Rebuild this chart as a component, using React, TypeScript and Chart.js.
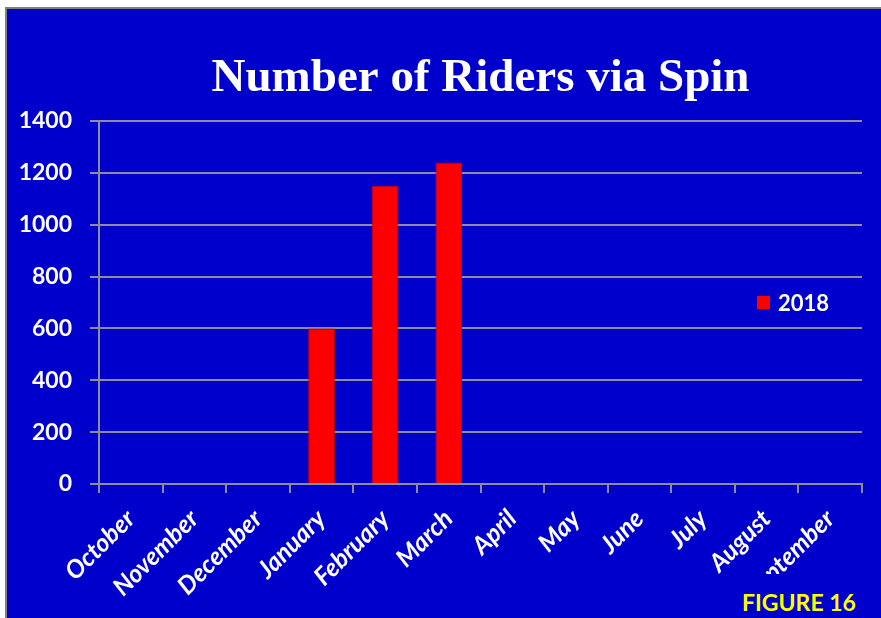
import React, { useEffect, useRef } from 'react';
import { Chart, registerables } from 'chart.js';

Chart.register(...registerables);

const chartTitle = 'Number of Riders via Spin';
const figureLabel = 'FIGURE 16';
const seriesLabel = '2018';
const months = ['October', 'November', 'December', 'January', 'February', 'March', 'April', 'May', 'June', 'July', 'August', 'September'];
const riders2018: (number | null)[] = [null, null, null, 600, 1150, 1240, null, null, null, null, null, null];
const yMin = 0;
const yMax = 1400;
const yStep = 200;

const BLUE = '#0000CC';
const GRID = '#8c8c9c';

const sideLegend = {
  id: 'sideLegend',
  afterDraw(chart: any) {
    const { ctx, chartArea } = chart;
    const ds = chart.data.datasets[0];
    const cy = (chartArea.top + chartArea.bottom) / 2;
    const x = chartArea.right - 105;
    ctx.save();
    ctx.fillStyle = ds.backgroundColor;
    ctx.fillRect(x, cy - 6.5, 13, 13);
    ctx.fillStyle = '#ffffff';
    ctx.font = 'bold 22px Lato';
    ctx.textBaseline = 'middle';
    ctx.textAlign = 'left';
    ctx.fillText(ds.label, x + 21, cy + 1);
    ctx.restore();
  },
};

export default function App() {
  const canvasRef = useRef<HTMLCanvasElement | null>(null);

  useEffect(() => {
    if (!canvasRef.current) return;
    const chart = new Chart(canvasRef.current, {
      type: 'bar',
      data: {
        labels: months,
        datasets: [
          {
            label: seriesLabel,
            data: riders2018,
            backgroundColor: '#FF0000',
            borderColor: '#d00000',
            borderWidth: 1,
            barPercentage: 0.42,
            categoryPercentage: 1,
          },
        ],
      },
      options: {
        animation: false,
        responsive: false,
        maintainAspectRatio: false,
        layout: { padding: { left: 0, right: 19, top: 0, bottom: 0 } },
        plugins: {
          legend: { display: false },
          tooltip: { enabled: false },
          title: {
            display: true,
            text: chartTitle,
            color: '#ffffff',
            fullSize: false,
            font: { family: 'Liberation Serif', size: 47, weight: 'bold', lineHeight: 1.2 },
            padding: { top: 42, bottom: 13.6 },
          },
        },
        scales: {
          x: {
            afterFit: (s: any) => { s.height = 134; },
            border: { display: true, color: GRID, width: 2 },
            grid: { display: true, drawOnChartArea: false, drawTicks: true, tickLength: 9, color: GRID, lineWidth: 2, offset: true },
            ticks: {
              color: '#ffffff',
              autoSkip: false,
              minRotation: 45,
              maxRotation: 45,
              padding: 11,
              font: { family: 'Lato', size: 25, weight: 'bold', style: 'italic' },
            },
          },
          y: {
            min: yMin,
            max: yMax,
            afterFit: (s: any) => { s.width = 92; },
            border: { display: true, color: GRID, width: 2 },
            grid: { color: GRID, lineWidth: 2, drawTicks: true, tickLength: 9 },
            ticks: {
              stepSize: yStep,
              color: '#ffffff',
              padding: 18,
              callback: (v: any) => String(v),
              font: { family: 'Lato', size: 23, weight: 'bold' },
            },
          },
        },
      },
      plugins: [sideLegend],
    });
    return () => chart.destroy();
  }, []);

  return (
    <div style={{ position: 'absolute', left: 0, top: 0, width: 881, height: 618, background: '#ffffff', overflow: 'hidden' }}>
      <div
        style={{
          position: 'absolute',
          left: 5,
          top: 7,
          width: 876,
          height: 611,
          background: BLUE,
          borderLeft: '2px solid #808080',
          borderTop: '2px solid #808080',
          boxSizing: 'border-box',
        }}
      >
        <canvas ref={canvasRef} width={874} height={609} style={{ display: 'block', width: 874, height: 609 }} />
      </div>
      <div style={{ position: 'absolute', left: 722, top: 574, width: 159, height: 44, background: BLUE }}>
        <span
          style={{
            position: 'absolute',
            left: 20,
            top: 17,
            color: '#FFFF00',
            fontFamily: 'Lato',
            fontWeight: 'bold',
            fontSize: 23,
            lineHeight: '23px',
            whiteSpace: 'nowrap',
          }}
        >
          {figureLabel}
        </span>
      </div>
    </div>
  );
}
